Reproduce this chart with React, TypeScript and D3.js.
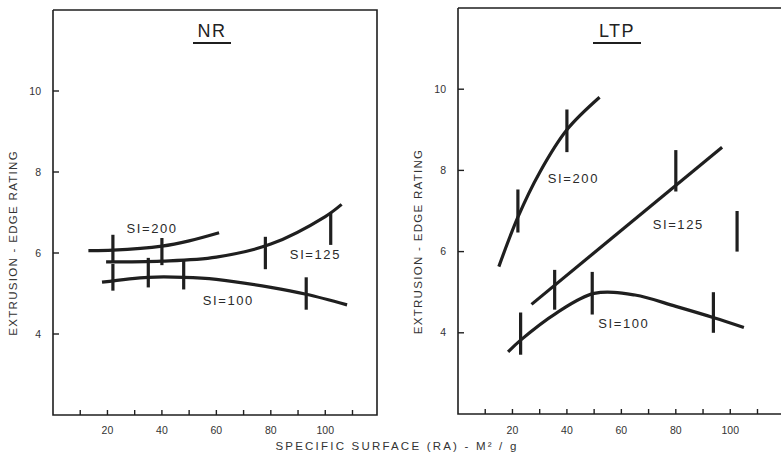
import React from "react";
import * as d3 from "d3";

type Pt = [number, number];
type Bar = [number, number, number];

// NR panel data
const nrSI200: Pt[] = [[13, 6.06], [22, 6.07], [40, 6.17], [50, 6.3], [61, 6.5]];
const nrSI125: Pt[] = [[19.5, 5.78], [40, 5.8], [60, 5.9], [80, 6.22], [100, 6.9], [106, 7.2]];
const nrSI100: Pt[] = [[18, 5.28], [35, 5.4], [48, 5.4], [60, 5.35], [80, 5.15], [93, 4.98], [108, 4.72]];
const nrBars: Bar[] = [
  [22, 5.8, 6.45], [22, 5.07, 5.73], [40, 5.7, 6.37], [35, 5.15, 5.88],
  [48, 5.1, 5.83], [78, 5.6, 6.4], [102, 6.2, 7.0], [93, 4.6, 5.4],
];

// LTP panel data
const ltpSI200: Pt[] = [[15, 5.63], [22, 6.85], [30, 7.95], [40, 9.0], [52, 9.8]];
const ltpSI125: Pt[] = [[27, 4.7], [97, 8.57]];
const ltpSI100: Pt[] = [[18.4, 3.53], [23, 3.82], [36, 4.48], [50, 4.97], [65, 4.93], [80, 4.65], [94, 4.37], [105, 4.13]];
const ltpBars: Bar[] = [
  [23, 3.46, 4.5], [22, 6.47, 7.53], [40, 8.45, 9.5], [35.5, 4.57, 5.55],
  [49.3, 4.45, 5.5], [80, 7.48, 8.5], [93.8, 4.0, 5.0], [102.5, 6.0, 7.0],
];

const xMinorTicks = [10, 20, 30, 40, 50, 60, 70, 80, 90, 100, 110];
const xLabels = [20, 40, 60, 80, 100];
const yLabels = [4, 6, 8, 10];

const INK = "#1f1f1f";
const FONT = "'Liberation Sans', Arial, sans-serif";

type Label = { text: string; x: number; y: number };

interface PanelProps {
  left: number;
  right: number;
  top: number;
  bottom: number;
  title: string;
  underHalf: number;
  curves: Pt[][];
  bars: Bar[];
  labels: Label[];
}

function Panel({ left, right, top, bottom, title, underHalf, curves, bars, labels }: PanelProps) {
  const x = d3.scaleLinear().domain([0, 119]).range([left, right]);
  const y = d3.scaleLinear().domain([2, 12]).range([bottom, top]);
  const line = d3
    .line<Pt>()
    .x((d) => x(d[0]))
    .y((d) => y(d[1]))
    .curve(d3.curveCatmullRom.alpha(0.5));
  const cx = (left + right) / 2 - 3;
  return (
    <g>
      <path
        d={`M${left},${top}H${right}V${bottom}H${left}V${top}`}
        fill="none"
        stroke={INK}
        strokeWidth={1.6}
      />
      {xMinorTicks.map((t) => (
        <line key={`xt${t}`} x1={x(t)} x2={x(t)} y1={bottom} y2={bottom - 5} stroke={INK} strokeWidth={1.4} />
      ))}
      {xLabels.map((t) => (
        <text key={`xl${t}`} x={x(t)} y={434} textAnchor="middle" fontSize={10.5} fontFamily={FONT} fill="#333">
          {t}
        </text>
      ))}
      {yLabels.map((t) => (
        <g key={`y${t}`}>
          <line x1={left} x2={left + 6} y1={y(t)} y2={y(t)} stroke={INK} strokeWidth={1.4} />
          <text x={left - 12} y={y(t) + 3.5} textAnchor="end" fontSize={10.5} fontFamily={FONT} fill="#333">
            {t}
          </text>
        </g>
      ))}
      <text
        transform={`translate(${left - 36},${(y(4) + y(8.5)) / 2}) rotate(-90)`}
        textAnchor="middle"
        fontSize={11.5}
        letterSpacing={1.3}
        fontFamily={FONT}
        fill="#333"
      >
        EXTRUSION - EDGE RATING
      </text>
      <text x={cx} y={37} textAnchor="middle" fontSize={18} letterSpacing={1.5} fontFamily={FONT} fill="#222">
        {title}
      </text>
      <line x1={cx - underHalf} x2={cx + underHalf} y1={43} y2={43} stroke={INK} strokeWidth={2} />
      {curves.map((c, i) => (
        <path key={`c${i}`} d={line(c) ?? ""} fill="none" stroke={INK} strokeWidth={3.2} strokeLinecap="butt" />
      ))}
      {bars.map((b, i) => (
        <line key={`b${i}`} x1={x(b[0])} x2={x(b[0])} y1={y(b[1])} y2={y(b[2])} stroke={INK} strokeWidth={3.2} />
      ))}
      {labels.map((l, i) => (
        <text key={`l${i}`} x={x(l.x)} y={y(l.y)} fontSize={13} letterSpacing={1.6} fontFamily={FONT} fill="#2a2a2a">
          {l.text}
        </text>
      ))}
    </g>
  );
}

export default function App() {
  return (
    <svg
      width={781}
      height={452}
      style={{ position: "absolute", left: 0, top: 0, background: "#fff" }}
    >
      <rect width={781} height={452} fill="#fff" />
      <Panel
        left={53}
        right={377}
        top={10}
        bottom={415}
        title="NR"
        underHalf={19}
        curves={[nrSI200, nrSI125, nrSI100]}
        bars={nrBars}
        labels={[
          { text: "SI=200", x: 27, y: 6.5 },
          { text: "SI=125", x: 87, y: 5.85 },
          { text: "SI=100", x: 55, y: 4.72 },
        ]}
      />
      <Panel
        left={458}
        right={782}
        top={8}
        bottom={414}
        title="LTP"
        underHalf={24}
        curves={[ltpSI200, ltpSI125, ltpSI100]}
        bars={ltpBars}
        labels={[
          { text: "SI=200", x: 33, y: 7.7 },
          { text: "SI=125", x: 71.5, y: 6.55 },
          { text: "SI=100", x: 51.5, y: 4.12 },
        ]}
      />
      <text x={397} y={450} textAnchor="middle" fontSize={11.5} letterSpacing={2.2} fontFamily={FONT} fill="#333">
        SPECIFIC  SURFACE (RA) - M² / g
      </text>
    </svg>
  );
}
